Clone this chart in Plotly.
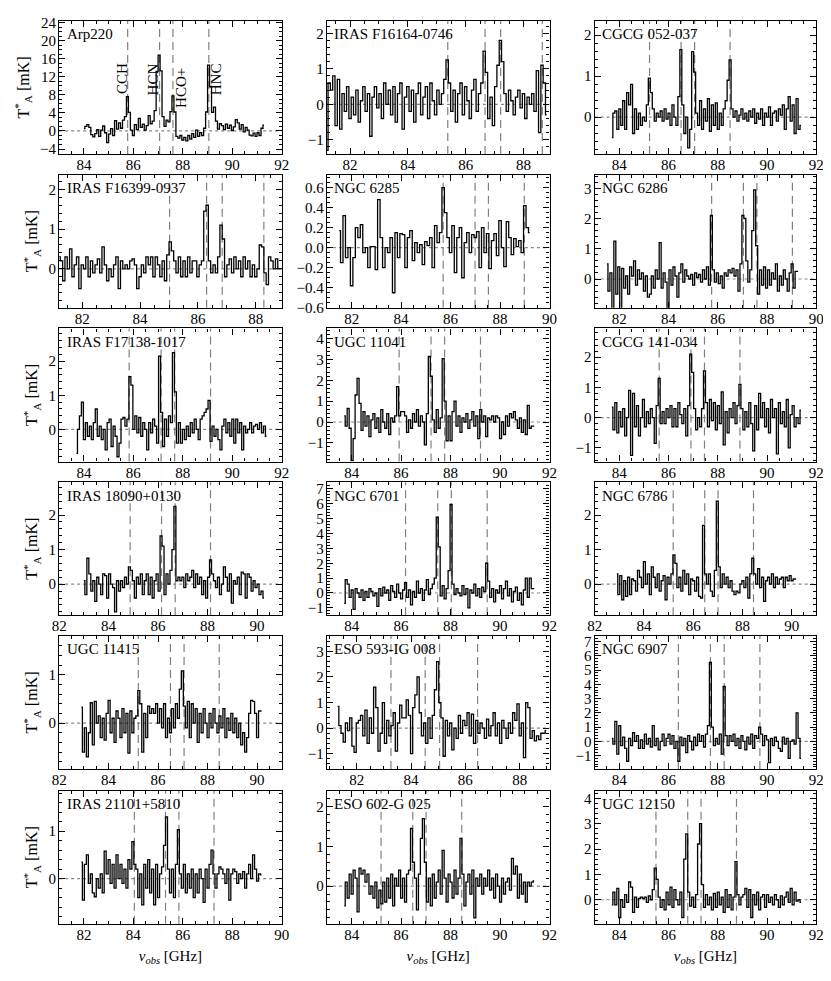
import numpy as np
import plotly.graph_objects as go

# galaxy names, one panel each (3 columns x 6 rows)
names = ["Arp220", "IRAS F16164-0746", "CGCG 052-037",
         "IRAS F16399-0937", "NGC 6285", "NGC 6286",
         "IRAS F17138-1017", "UGC 11041", "CGCG 141-034",
         "IRAS 18090+0130", "NGC 6701", "NGC 6786",
         "UGC 11415", "ESO 593-IG 008", "NGC 6907",
         "IRAS 21101+5810", "ESO 602-G 025", "UGC 12150"]

# first channel frequency and channel width [GHz]
x_start = [84.0, 81.2, 83.7, 81.2, 81.5, 81.5,
           83.7, 83.7, 83.7, 83.0, 83.7, 82.9,
           82.9, 81.3, 83.7, 81.9, 83.7, 83.7]
chan_width = [0.08, 0.08, 0.08, 0.08, 0.1, 0.08,
              0.08, 0.08, 0.08, 0.08, 0.08, 0.08,
              0.08, 0.08, 0.08, 0.08, 0.08, 0.08]

# observed positions of CCH, HCN, HCO+, HNC [GHz]
line_pos = [[85.77, 87.06, 87.60, 89.05], [85.38, 86.67, 87.21, 88.65], [85.23, 86.51, 87.06, 88.50],
            [85.02, 86.30, 86.84, 88.28], [85.70, 86.99, 87.53, 88.98], [85.75, 87.04, 87.59, 89.03],
            [85.83, 87.12, 87.67, 89.12], [85.92, 87.21, 87.76, 89.21], [85.62, 86.91, 87.46, 88.90],
            [84.87, 86.14, 86.69, 88.12], [86.18, 87.48, 88.03, 89.48], [85.19, 86.47, 87.01, 88.45],
            [85.20, 86.50, 87.05, 88.47], [83.26, 84.52, 85.05, 86.45], [86.40, 87.70, 88.26, 89.71],
            [84.04, 85.30, 85.84, 87.26], [85.19, 86.47, 87.01, 88.45], [85.49, 86.78, 87.32, 88.76]]
line_names = ["CCH", "HCN", "HCO+", "HNC"]

x_ranges = [[83, 92], [81.2, 88.9], [83, 92],
            [81.2, 88.9], [81, 90], [81, 90],
            [83, 92], [83, 92], [83, 92],
            [82, 91], [83, 92], [82, 91],
            [82, 91], [80.9, 89.1], [83, 92],
            [81, 90], [83, 92], [83, 92]]
y_ranges = [[-5.1, 24.4], [-1.4, 2.35], [-0.9, 2.35],
            [-0.98, 2.37], [-0.6, 0.73], [-0.95, 3.45],
            [-0.94, 2.96], [-1.9, 4.5], [-1.45, 2.95],
            [-0.9, 2.95], [-1.5, 7.45], [-0.9, 2.95],
            [-0.95, 1.8], [-1.6, 3.6], [-1.95, 7.4],
            [-0.95, 1.85], [-0.95, 2.4], [-0.95, 4.3]]
y_dtick = [4, 1, 1, 1, 0.2, 1, 1, 1, 1, 1, 1, 1, 1, 1, 1, 1, 1, 1]
y_minor = [1, 0.2, 0.2, 0.2, 0.05, 0.2, 0.2, 0.2, 0.2, 0.2, 0.2, 0.2, 0.2, 0.2, 0.2, 0.2, 0.2, 0.2]

# antenna temperatures T*_A [mK], one value per channel
arp220 = [0.5, 1.0, 1.4, 0.8, -0.8, -1.3, -0.6, 0.3, -1.2, 0.2, 1.1, -0.4, -2.6, -0.7, 0.5, -1.0,
          2.3, 0.4, 1.8, 0.6, 2.4, 3.2, 7.6, 4.1, 0.2, -1.0, 1.4, 0.3, 2.8, 0.8, 1.5, 0.2,
          1.2, 3.4, 1.6, 2.2, 4.5, 13.2, 16.8, 13.3, 3.2, 1.0, 2.4, 2.0, 4.3, 7.8, 4.2, -1.2,
          -1.6, -1.0, -2.0, -1.4, -2.2, -1.0, -1.8, -0.6, -1.4, 0.2, -1.2, -0.4, -1.0, 0.6, 4.2, 14.6,
          9.8, 4.1, 5.3, 2.2, 0.4, 1.6, 1.2, 0.3, 1.5, 0.6, 1.3, 0.1, 0.9, 2.5, 1.8, 0.4,
          1.4, -0.2, 0.8, 0.2, -0.9, -1.1, -0.5, -1.2, -0.4, -1.0, 0.6, 1.3]
f16164 = [-1.3, 0.6, 0.4, 0.8, -0.6, 0.7, -0.7, 0.3, -0.2, 0.5, -0.4, 0.2, -0.3, 0.4, -0.5, 0.1,
          0.5, -0.2, 0.3, -0.9, 0.2, 0.5, -0.1, 0.3, -0.4, 0.6, 0.0, 0.4, -0.3, 0.5, -0.5, 0.3,
          0.6, -0.7, 0.2, 0.5, -0.2, 0.4, -0.5, 0.3, 0.6, -0.3, 0.2, 0.5, -0.4, 0.6, 0.1, -0.3,
          0.4, 0.0, 0.3, 0.7, 1.25, 0.6, -0.2, 0.4, -0.5, 0.3, 0.6, -0.3, 0.5, 0.1, -0.4, 0.4,
          0.7, -0.2, 0.3, 0.6, 1.5, 0.9, -0.4, 0.2, -0.6, 0.5, 1.1, 1.8, 1.2, 0.3, -0.2, 0.4,
          0.1, -0.3, 0.2, 0.4, -0.1, 0.3, -0.4, 0.2, 0.0, 0.3, -0.2, 0.95, -0.8, 1.1, 0.6, -0.3]
cgcg052 = [-0.5, 0.1, 0.15, -0.3, 0.2, -0.2, 0.4, -0.3, 0.6, 0.3, 0.8, -0.4, 0.2, -0.3, 0.1, -0.2,
           0.0, -0.1, 0.3, 0.95, 0.6, 0.2, -0.1, 0.1, 0.0, 0.15, -0.1, 0.2, -0.05, 0.1, -0.2, 0.3,
           0.0, -0.2, 0.5, 1.65, 0.3, -0.4, 0.0, -0.75, -0.3, 1.6, 1.1, 0.1, -0.2, 0.4, -0.3, 0.2,
           -0.1, 0.45, -0.35, 0.3, -0.2, 0.35, -0.3, 0.1, -0.2, 0.2, 0.4, 0.9, 1.4, 0.2, 0.0, 0.15,
           -0.1, 0.05, 0.2, -0.05, 0.1, -0.1, 0.15, 0.0, 0.2, -0.15, 0.1, -0.05, 0.2, -0.2, 0.1, 0.0,
           0.25, -0.2, 0.1, 0.15, -0.1, 0.2, 0.05, 0.3, -0.3, 0.2, 0.5, -0.1, 0.3, -0.4, 0.45, -0.3, -0.2]
f16399 = [0.3, 0.2, -0.3, 0.3, 0.0, 0.5, -0.2, 0.1, 0.3, -0.5, 0.1, 0.0, 0.3, -0.2, 0.2, -0.1,
          0.1, 0.25, -0.1, 0.55, 0.1, -0.3, 0.0, -0.2, 0.1, 0.3, -0.5, 0.2, 0.0, 0.1, 0.0, 0.2,
          0.25, 0.1, -0.5, -0.2, 0.1, -0.1, 0.3, 0.1, 0.3, -0.2, 0.3, 0.1, -0.2, 0.2, -0.3, 0.35,
          0.68, 0.45, 0.2, -0.1, 0.3, -0.2, 0.2, -0.2, 0.3, -0.1, 0.2, 0.2, -0.2, 0.1, 0.2, 1.45,
          1.6, 0.2, -0.1, 0.1, -0.1, 0.3, 1.1, 0.75, -0.2, 0.1, 0.25, -0.1, 0.3, 0.0, 0.2, -0.2,
          0.3, 0.0, 0.2, -0.2, 0.1, -0.2, 0.0, 0.6, 0.55, -0.1, -0.4, 0.3, 0.2, 0.0, 0.25, 0.0, 0.0]
ngc6285 = [0.17, -0.15, 0.32, -0.1, 0.0, -0.38, -0.1, 0.2, 0.1, 0.23, -0.05, 0.0, -0.2, 0.01, 0.01, -0.22,
           0.48, 0.1, -0.2, 0.0, -0.05, 0.1, -0.45, 0.15, -0.1, 0.14, 0.13, -0.2, 0.1, 0.17, -0.13, 0.05,
           -0.05, 0.03, -0.17, 0.06, 0.02, 0.1, -0.2, 0.22, 0.05, 0.15, 0.6, 0.35, 0.1, -0.05, 0.22, -0.25,
           0.1, 0.2, -0.3, 0.05, 0.15, -0.05, 0.13, 0.1, 0.16, -0.2, 0.2, -0.05, 0.14, -0.21, 0.07, 0.14,
           -0.08, 0.27, 0.0, -0.19, 0.26, 0.1, -0.07, 0.09, 0.01, 0.07, -0.05, 0.42, 0.2, 0.15]
ngc6286 = [0.5, -0.4, 0.2, -1.2, 1.25, -0.5, 0.4, -1.1, 0.35, -0.3, 0.1, -0.5, 0.4, 0.1, 0.6, -0.2,
           0.3, 0.0, 0.2, -0.4, 0.1, -0.6, -0.5, 0.1, -0.3, 0.3, 0.0, 1.2, -0.3, 0.2, -0.1, -1.2,
           0.3, -0.2, 0.4, 0.1, -0.6, 0.2, 0.5, -0.1, 0.3, 0.1, 0.0, 0.15, -0.2, 0.2, 0.05, 0.15,
           -0.1, 0.3, 0.0, 0.4, -0.2, 2.1, 0.3, -0.1, 0.2, -0.15, 0.1, -0.3, 0.2, 0.1, 0.3, 0.2,
           0.35, 0.1, 0.3, -0.4, 0.5, 2.1, 2.0, 0.6, -0.1, 0.3, 1.6, 2.95, 1.1, -0.5, 0.3, -0.2,
           0.4, -0.3, 0.3, -0.2, 0.2, 0.0, 0.5, -0.4, 0.1, -0.2, 0.3, 0.0, -0.4, 0.2, 0.5, -0.3, 0.25, 0.25]
f17138 = [-0.7, 0.0, 0.4, 0.8, -0.3, 0.2, -0.2, 0.1, -0.3, 0.2, 0.6, -0.2, 0.1, -0.3, 0.0, -0.6,
          0.2, 0.3, -0.5, 0.1, -0.2, -0.8, -0.4, 0.3, 0.35, 0.1, 0.3, 1.55, 1.3, 0.0, 0.4, -0.1,
          0.35, -0.2, 0.2, 0.0, -0.6, 0.2, -0.1, 0.3, 0.1, -0.4, 2.15, 0.5, -0.5, 0.3, -0.2, 0.4,
          0.2, 2.25, 1.1, -0.4, 0.2, -0.4, 0.0, -0.3, 0.1, -0.2, 0.2, -0.1, 0.3, 0.0, -0.3, 0.3,
          0.4, 0.5, 0.6, 0.85, -0.35, 0.1, -0.2, 0.0, -0.3, -0.6, 0.1, 0.3, -0.1, 0.2, -0.2, 0.3,
          -0.4, 0.3, -0.1, 0.2, -0.6, 0.1, -0.1, 0.0, 0.2, -0.1, 0.1, 0.15, 0.0, 0.2, -0.1, 0.1, -0.2]
ugc11041 = [0.3, -0.2, 0.65, -0.3, -1.85, -0.8, 1.3, 2.1, 0.9, -0.4, 0.5, -0.2, 0.3, -0.7, 0.1, 0.4,
            -0.3, 0.2, -0.5, 0.6, 0.0, -0.3, 0.4, -0.6, 0.2, 0.0, 0.3, 1.7, 0.3, 0.5, 0.5, 0.3,
            -0.5, 0.1, -0.3, 0.4, 0.0, 0.6, -0.2, 0.3, 0.0, -1.1, 0.4, 3.15, 2.2, 0.1, -0.5, 0.6,
            -0.3, 0.2, 3.05, 1.0, -0.9, 0.3, -0.9, 0.5, 1.0, -0.2, 0.3, -0.5, 0.2, 0.0, 0.4, -0.3,
            0.1, 0.5, -0.2, 0.3, -0.8, 0.6, 0.0, 0.3, -0.7, 0.2, 0.1, 0.3, 0.0, 0.3, 0.2, -0.8,
            0.0, -0.6, 0.3, -0.2, 0.4, 0.2, 0.5, 0.1, -0.3, 0.2, -0.5, 0.1, -0.6, 0.8, -0.3, -0.2, -0.2]
cgcg141 = [0.35, -0.4, 0.5, -0.5, 0.2, -0.3, 0.3, -0.6, 0.0, 0.9, -1.25, 0.8, -0.3, 0.4, -0.6, 0.0,
           0.6, -0.3, 0.2, -0.2, 0.3, 0.0, -0.85, 0.4, 1.3, -0.2, 0.2, -0.2, 0.3, 0.0, 0.4, -0.3,
           0.3, -0.3, 0.5, 0.1, -0.2, 0.3, -0.6, 0.4, 2.1, 1.5, 0.3, -0.4, 0.0, -0.3, 0.3, 1.55,
           0.5, -0.3, 0.6, -0.1, 0.5, -0.4, 0.4, -0.2, 0.85, -0.9, 0.2, -0.5, 0.3, 0.0, 0.5, -0.2,
           0.4, 1.1, 0.3, -0.4, 0.2, -0.3, 0.5, -0.2, -1.1, 0.4, -0.4, 0.8, 0.0, 0.5, -0.3, 0.3,
           -0.5, 0.6, 0.0, 0.3, -1.2, 0.5, -0.2, 0.2, -0.3, 0.6, -1.0, 0.1, 0.4, -0.3, 0.0, -0.2, 0.25]
i18090 = [0.1, -0.3, 0.75, 0.3, -0.2, 0.1, -0.5, 0.2, 0.0, -0.3, 0.3, 0.25, -0.4, 0.3, 0.0, -0.1,
          -0.8, 0.1, -0.2, 0.1, -0.1, 0.2, 0.0, 0.5, 0.4, 0.1, -0.4, 0.2, 0.0, 0.3, -0.3, 0.1,
          0.3, -0.3, 0.2, -0.4, 0.1, 0.3, -0.2, 1.4, 1.1, -0.3, 0.3, 0.0, 0.4, 1.0, 2.25, 0.1,
          0.2, 0.1, 0.2, -0.1, 0.3, 0.1, 0.2, 0.4, -0.1, 0.3, 0.0, 0.2, -0.3, 0.1, -0.4, 0.2,
          0.7, 0.3, 0.1, -0.1, 0.2, -0.3, 0.0, 0.5, 0.2, -0.2, 0.3, -0.55, 0.1, 0.0, 0.2, -0.3,
          0.35, 0.3, -0.4, 0.3, 0.2, -0.2, 0.1, -0.1, 0.0, -0.3, -0.2, -0.4]
ngc6701 = [-0.7, 0.9, 0.6, -0.3, 0.2, -1.1, 0.3, 0.0, -0.3, 0.2, -0.5, 0.1, -0.3, 0.3, 0.1, -0.2,
           0.0, -0.9, 0.3, -0.2, 0.4, 0.0, 0.2, -0.5, 0.5, 0.1, -0.3, 0.6, 0.0, -0.4, 0.2, 0.7,
           -0.3, 0.2, -0.8, 0.1, -0.3, 0.8, 0.0, 0.3, -0.5, 0.2, 0.9, -0.1, 0.3, 0.6, 1.0, 5.1,
           3.1, -0.2, 0.5, -0.4, 0.3, 1.5, 5.95, 0.6, -0.1, 0.3, 0.0, -0.2, 0.5, -0.1, 0.3, -1.0,
           0.2, 0.0, 0.6, -0.2, 0.3, -0.3, 0.4, 0.1, 2.0, 0.8, -0.3, 0.3, -0.6, 0.2, 0.0, 0.5,
           -0.4, 0.3, 0.8, -0.2, 0.3, -0.6, 0.1, 0.4, -0.5, 0.0, -0.8, 0.2, 1.0, -0.3, 1.0, 0.3, 0.3]
ngc6786 = [0.3, -0.3, 0.25, -0.45, 0.1, -0.35, 0.2, -0.3, 0.15, 0.1, -0.2, 0.4, 0.2, -0.1, 0.65, 0.0,
           0.3, -0.3, 0.5, 0.2, -0.1, 0.3, -0.2, 0.1, 0.25, -0.45, 0.2, 0.0, 0.3, 0.85, 0.6, -0.1,
           0.2, -0.2, 0.4, 0.0, 0.3, -0.3, 0.15, 0.1, -0.2, 0.2, -0.35, -0.4, 1.7, 0.3, 0.0, 0.3,
           -0.2, -0.35, 0.4, 2.4, 0.5, -0.1, 0.3, 0.0, 0.2, -0.1, 0.1, -0.2, -0.3, -0.2, -0.25, 0.0,
           0.1, -0.1, 0.2, -0.4, 0.3, 0.75, 0.3, 0.0, 0.45, -0.1, 0.2, -0.5, 0.1, 0.2, 0.0, 0.3,
           -0.1, 0.2, 0.0, 0.15, 0.2, -0.1, 0.2, 0.1, 0.25, 0.1, 0.15, 0.15]
ugc11415 = [0.33, -0.6, -0.1, -0.7, -0.2, 0.42, -0.45, 0.45, 0.0, 0.15, -0.3, 0.1, -0.35, 0.2, 0.47, -0.2,
            0.1, -0.4, 0.25, 0.1, -0.3, 0.3, -0.2, 0.2, -0.62, 0.25, -0.2, 0.1, 0.15, 0.67, 0.4, -0.6,
            0.2, -0.3, 0.35, 0.2, 0.3, 0.2, 0.4, 0.0, 0.3, -0.1, 0.4, -0.3, 0.1, -0.2, 0.3, -0.1,
            0.4, 0.1, 0.7, 1.08, 0.35, -0.1, 0.45, -0.3, 0.4, 0.0, 0.3, -0.4, 0.2, -0.2, 0.3, 0.0,
            -0.3, 0.2, -0.1, 0.3, 0.0, -0.2, 0.15, -0.1, 0.3, -0.3, 0.1, -0.15, 0.2, -0.2, 0.1, -0.3,
            0.0, -0.45, -0.2, -0.6, -0.3, 0.2, 0.47, 0.45, 0.2, -0.3, 0.25, 0.25]
eso593 = [0.85, 0.1, -0.2, -0.55, 0.2, -0.1, 0.4, -0.7, -0.95, 0.2, 0.3, 0.5, -0.3, 0.7, -0.6, 0.4,
          -0.2, 1.6, 0.8, -0.9, -0.2, 1.0, -0.6, 0.3, -0.3, 0.1, 0.6, -0.9, 0.2, 0.9, 0.4, 0.4,
          1.1, 0.5, -1.0, 0.8, 1.3, 2.0, 0.6, -0.3, 0.2, -0.6, 0.4, -0.4, 0.5, 1.5, 2.6, 1.0,
          0.4, -1.1, 0.3, -0.3, 0.2, -0.85, 0.0, -0.4, 0.5, -0.2, 0.3, 0.1, 0.6, -0.3, 0.55, -0.6,
          0.3, -0.2, 0.2, 0.0, -0.4, 0.35, -0.3, 0.1, 0.6, -0.3, 0.2, -0.6, 0.3, 0.0, -0.4, 0.2,
          -0.2, 0.6, 0.3, 0.95, -0.3, 0.2, -1.15, 1.0, 0.8, -0.4, -0.1, -0.5, -0.3, -0.45, -0.2, -0.2, -0.1]
ngc6907 = [0.2, -0.2, 1.4, -0.9, 1.1, -0.3, 0.3, -0.5, -1.4, 0.2, -0.3, 0.6, 0.0, 0.4, -0.5, 0.1,
           -0.5, 0.5, -0.2, 0.2, -0.4, 1.1, -0.3, 0.2, -0.6, 0.0, 0.5, -0.3, 0.2, 0.5, -0.2, 0.4,
           -0.5, 0.0, -1.4, 0.3, -0.3, 0.2, -0.8, 0.4, 0.0, -0.6, 0.3, -0.3, 0.5, 0.0, 0.4, -0.4,
           0.5, 1.1, 5.55, 1.0, -0.3, 0.2, -0.2, 0.5, -0.9, 3.85, 0.4, -0.3, 0.4, 0.0, 0.5, -0.3,
           0.2, -0.5, 0.4, 0.0, -0.6, 0.3, -0.2, 0.5, -0.5, 0.4, 0.2, 1.0, 0.5, -0.3, 0.4, 0.1,
           -1.5, 0.2, -0.3, 0.3, 0.0, -0.5, -0.7, 0.3, -0.2, 0.2, -1.2, 0.0, 0.1, -0.2, 2.0, 0.2, -1.2]
i21101 = [0.35, -0.45, 0.3, 0.5, -0.1, 0.1, -0.3, -0.38, 0.0, -0.2, 0.1, -0.3, 0.58, 0.1, 0.4, -0.1,
          0.3, -0.2, 0.5, 0.0, 0.3, -0.1, 0.2, -0.2, 0.4, 0.2, 0.78, 0.3, 0.2, -0.4, 0.1, -0.55,
          0.3, -0.2, 0.4, -0.3, 0.2, -0.55, 0.3, -0.4, 0.1, 0.25, 0.7, 1.3, 0.2, -0.3, 0.2, -0.4,
          0.3, 1.03, 0.1, -0.2, 0.3, -0.3, 0.1, -0.2, 0.2, -0.4, 0.1, -0.3, 0.2, 0.0, -0.5, 0.2,
          -0.2, 0.3, 0.6, 0.1, -0.2, 0.1, 0.25, 0.2, 0.1, -0.1, 0.2, -0.45, 0.1, 0.2, 0.15, -0.1,
          0.1, 0.0, 0.15, -0.2, 0.1, 0.3, 0.0, 0.5, 0.2, -0.05, 0.1, 0.08]
eso602 = [-0.5, 0.1, -0.3, 0.3, -0.2, 0.4, 0.2, -0.65, 0.45, 0.3, 0.4, 0.1, 0.3, -0.2, 0.0, -0.3,
          0.1, -0.55, -0.1, -0.45, 0.1, -0.4, 0.2, -0.3, 0.3, -0.5, 0.2, 0.0, 0.4, -0.3, 0.2, -0.4,
          0.3, 0.4, 1.45, 0.6, 0.2, -0.6, 0.3, 1.2, 1.7, 0.6, -0.4, 0.2, -0.5, 0.3, -0.3, 0.1,
          0.4, -0.2, 0.9, 0.2, -0.4, 0.3, 0.1, -0.3, 0.4, -0.2, 0.2, 1.2, 0.3, -0.5, 0.1, 0.3,
          -0.2, 0.4, -0.8, 0.2, 0.0, 0.3, -0.2, 0.2, 0.0, 0.4, -0.1, 0.2, -0.3, 0.3, 0.0, -0.4,
          0.2, -0.2, 0.1, 0.2, -0.1, 0.7, 0.3, 0.5, -0.3, 0.3, -0.2, 0.1, -0.4, 0.1, 0.0, 0.1, 0.13]
ugc12150 = [-0.2, 0.3, -0.2, 0.45, -0.7, 0.0, -0.3, 0.2, -0.1, 0.7, 0.5, -0.5, 0.1, -0.3, 0.05, 0.1,
            0.05, 0.1, -0.1, 0.15, 0.0, 0.4, 1.25, 0.8, 0.1, -0.3, 0.0, -0.4, 0.3, -0.2, 0.5, -0.3,
            0.4, 0.0, -0.2, 0.3, -0.7, 1.6, 2.6, 0.3, -0.25, 0.1, -0.3, 0.2, 2.2, 3.0, 0.6, -0.3,
            0.2, -0.2, 0.1, -0.4, 0.25, -0.3, 0.3, -0.2, 0.1, -0.5, 0.4, -0.3, 0.2, -0.4, 0.1, 1.5,
            0.2, -0.2, 0.1, 0.2, 0.45, -0.3, 0.4, -0.7, 0.2, -0.2, 0.3, -0.4, 0.1, 0.2, -0.3, 0.2,
            -0.1, 0.1, -0.2, 0.2, 0.0, -0.3, 0.15, -0.2, 0.1, 0.3, -0.1, 0.45, -0.2, 0.3, -0.05, 0.0, -0.1]

spectra = [arp220, f16164, cgcg052, f16399, ngc6285, ngc6286,
           f17138, ugc11041, cgcg141, i18090, ngc6701, ngc6786,
           ugc11415, eso593, ngc6907, i21101, eso602, ugc12150]

W, H = 831, 981
col_px = [(44, 271), (317, 544), (590, 816)]
row_top = [7, 163, 319, 475, 631, 788]
panel_h = 135
FONT = "Liberation Serif"

fig = go.Figure()
shapes, annots = [], []
for k in range(18):
    r, c = divmod(k, 3)
    sfx = "" if k == 0 else str(k + 1)
    xr, yr = "x" + sfx, "y" + sfx
    x = x_start[k] + chan_width[k] * np.arange(len(spectra[k]))
    fig.add_trace(go.Scatter(x=x, y=spectra[k], mode="lines",
                             line=dict(color="black", width=1.3, shape="hvh"),
                             xaxis=xr, yaxis=yr, showlegend=False, hoverinfo="skip"))

    common = dict(showline=True, mirror="allticks", linecolor="black", linewidth=1.3,
                  ticks="inside", ticklen=6, tickwidth=1, tickcolor="black",
                  showgrid=False, zeroline=False,
                  tickfont=dict(family=FONT, size=15, color="black"))
    xax = dict(common, domain=[col_px[c][0] / W, col_px[c][1] / W], anchor=yr,
               range=x_ranges[k], tick0=0, dtick=2, ticklabelstandoff=-3,
               minor=dict(ticks="inside", ticklen=3, tickcolor="black", dtick=0.5, tick0=0))
    yax = dict(common, domain=[1 - (row_top[r] + panel_h) / H, 1 - row_top[r] / H], anchor=xr,
               range=y_ranges[k], tick0=0, dtick=y_dtick[k], ticklabelstandoff=-1,
               minor=dict(ticks="inside", ticklen=3, tickcolor="black", dtick=y_minor[k], tick0=0))
    if k == 4:
        yax["tickformat"] = ".1f"
    if c == 0:
        yax["title"] = dict(text="T<sup>*</sup><sub>A</sub> [mK]",
                            font=dict(family=FONT, size=16, color="black"), standoff=6)
    if r == 5:
        xax["title"] = dict(text="<i>ν<sub>obs</sub></i> [GHz]",
                            font=dict(family=FONT, size=15, color="black"), standoff=8)
    fig.update_layout({"xaxis" + sfx: xax, "yaxis" + sfx: yax})

    # dotted zero level
    shapes.append(dict(type="line", xref=xr + " domain", yref=yr, x0=0, x1=1, y0=0, y1=0,
                       line=dict(color="#888888", width=1.2, dash="dot"), layer="below"))
    # dashed line markers
    for lp in line_pos[k]:
        shapes.append(dict(type="line", xref=xr, yref=yr + " domain", x0=lp, x1=lp, y0=0, y1=1,
                           line=dict(color="#808080", width=1.2, dash="8px,5px"), layer="below"))
    annots.append(dict(text=names[k], xref=xr + " domain", yref=yr + " domain",
                       x=0.025, y=0.975, xanchor="left", yanchor="top", showarrow=False,
                       font=dict(family=FONT, size=15, color="black")))

# molecule labels in the Arp220 panel
label_dx = [-0.25, -0.25, 0.3, 0.3]
label_y = [15.5, 15.5, 14.5, 15.5]
for lp, ln, dx, ly in zip(line_pos[0], line_names, label_dx, label_y):
    annots.append(dict(text=ln, xref="x", yref="y", x=lp + dx, y=ly, textangle=-90,
                       xanchor="center", yanchor="top", showarrow=False,
                       font=dict(family=FONT, size=15, color="black")))

fig.update_layout(width=W, height=H, margin=dict(l=0, r=0, t=0, b=0),
                  paper_bgcolor="white", plot_bgcolor="white",
                  shapes=shapes, annotations=annots,
                  font=dict(family=FONT, color="black"))

fig.write_html("out.html")
